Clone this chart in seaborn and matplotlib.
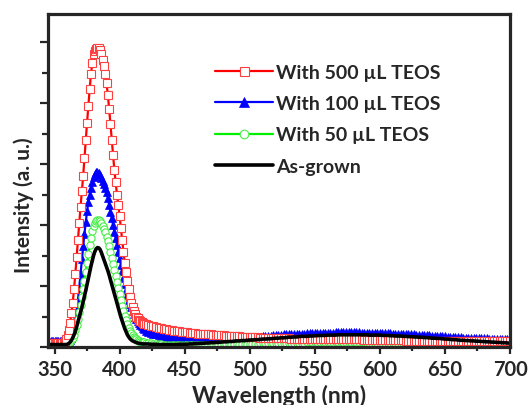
import matplotlib.pyplot as plt
import numpy as np
import seaborn as sns
from matplotlib.ticker import MultipleLocator

# wavelength grid (nm): 1 nm steps over the UV peak, 2 nm steps over the tail
wl_peak = np.arange(346, 421, 1)
wl_tail = np.arange(422, 701, 2)

labels = ['With 500 \u00b5L TEOS', 'With 100 \u00b5L TEOS', 'With 50 \u00b5L TEOS', 'As-grown']

teos500_peak = [
    0.12, 0.12, 0.12, 0.12, 0.12, 0.12, 0.12, 0.12, 0.12, 0.12,
    0.13, 0.14, 0.17, 0.25, 0.38, 0.55, 0.80, 1.10, 1.45, 1.90,
    2.40, 2.95, 3.50, 4.05, 4.60, 5.10, 5.60, 6.20, 6.80, 7.35,
    7.90, 8.45, 8.95, 9.30, 9.60, 9.72, 9.78, 9.80, 9.82, 9.75,
    9.60, 9.42, 9.20, 8.95, 8.65, 8.25, 7.80, 7.30, 6.80, 6.30,
    5.80, 5.40, 5.00, 4.65, 4.30, 3.90, 3.50, 3.10, 2.75, 2.45,
    2.15, 1.90, 1.65, 1.45, 1.30, 1.17, 1.07, 1.00, 0.94, 0.89,
    0.85, 0.82, 0.79, 0.76, 0.74,
]
teos500_tail = [
    0.72, 0.70, 0.68, 0.65, 0.63, 0.61, 0.60, 0.58, 0.57, 0.55,
    0.54, 0.53, 0.51, 0.50, 0.49, 0.48, 0.47, 0.46, 0.45, 0.44,
    0.43, 0.43, 0.42, 0.41, 0.41, 0.40, 0.40, 0.39, 0.38, 0.38,
    0.37, 0.37, 0.36, 0.36, 0.35, 0.35, 0.34, 0.34, 0.33, 0.33,
    0.32, 0.32, 0.32, 0.31, 0.31, 0.30, 0.30, 0.30, 0.29, 0.29,
    0.29, 0.28, 0.28, 0.28, 0.28, 0.27, 0.27, 0.27, 0.27, 0.26,
    0.26, 0.26, 0.26, 0.26, 0.26, 0.26, 0.26, 0.26, 0.26, 0.26,
    0.26, 0.26, 0.26, 0.26, 0.26, 0.25, 0.25, 0.25, 0.25, 0.25,
    0.25, 0.25, 0.25, 0.24, 0.24, 0.24, 0.24, 0.24, 0.23, 0.23,
    0.23, 0.23, 0.23, 0.22, 0.22, 0.22, 0.22, 0.22, 0.22, 0.21,
    0.21, 0.21, 0.21, 0.21, 0.21, 0.21, 0.21, 0.21, 0.21, 0.21,
    0.20, 0.20, 0.20, 0.20, 0.20, 0.20, 0.20, 0.20, 0.20, 0.20,
    0.20, 0.20, 0.20, 0.20, 0.20, 0.20, 0.20, 0.20, 0.20, 0.20,
    0.20, 0.20, 0.20, 0.20, 0.20, 0.20, 0.20, 0.20, 0.20, 0.20,
]

teos100_peak = [
    0.20, 0.20, 0.20, 0.20, 0.20, 0.20, 0.20, 0.20, 0.20, 0.20,
    0.20, 0.20, 0.20, 0.20, 0.20, 0.20, 0.22, 0.30, 0.48, 0.68,
    0.92, 1.20, 1.55, 1.95, 2.40, 2.88, 3.30, 3.72, 4.10, 4.45,
    4.75, 5.00, 5.22, 5.42, 5.57, 5.67, 5.73, 5.75, 5.72, 5.65,
    5.55, 5.45, 5.35, 5.22, 5.07, 4.88, 4.66, 4.44, 4.22, 4.00,
    3.78, 3.56, 3.35, 3.13, 2.92, 2.70, 2.48, 2.27, 2.07, 1.88,
    1.70, 1.55, 1.42, 1.30, 1.19, 1.09, 1.00, 0.92, 0.85, 0.79,
    0.73, 0.68, 0.63, 0.58, 0.54,
]
teos100_tail = [
    0.48, 0.45, 0.43, 0.41, 0.39, 0.37, 0.35, 0.34, 0.33, 0.32,
    0.31, 0.30, 0.29, 0.28, 0.27, 0.27, 0.26, 0.26, 0.25, 0.25,
    0.25, 0.25, 0.25, 0.25, 0.25, 0.25, 0.25, 0.26, 0.26, 0.26,
    0.27, 0.27, 0.28, 0.28, 0.28, 0.29, 0.29, 0.30, 0.30, 0.31,
    0.32, 0.33, 0.33, 0.34, 0.35, 0.36, 0.37, 0.37, 0.38, 0.39,
    0.40, 0.40, 0.41, 0.41, 0.42, 0.42, 0.43, 0.43, 0.44, 0.44,
    0.44, 0.45, 0.45, 0.45, 0.46, 0.46, 0.46, 0.47, 0.47, 0.47,
    0.47, 0.47, 0.48, 0.48, 0.48, 0.48, 0.48, 0.48, 0.48, 0.48,
    0.48, 0.48, 0.47, 0.47, 0.47, 0.47, 0.47, 0.46, 0.46, 0.46,
    0.46, 0.45, 0.45, 0.45, 0.44, 0.44, 0.43, 0.43, 0.43, 0.42,
    0.42, 0.41, 0.41, 0.40, 0.40, 0.39, 0.39, 0.38, 0.38, 0.37,
    0.37, 0.36, 0.36, 0.35, 0.35, 0.34, 0.34, 0.33, 0.33, 0.32,
    0.32, 0.31, 0.31, 0.30, 0.30, 0.30, 0.29, 0.29, 0.28, 0.28,
    0.28, 0.27, 0.27, 0.27, 0.26, 0.26, 0.25, 0.25, 0.25, 0.24,
]

teos50_peak = [
    0.05, 0.05, 0.05, 0.05, 0.05, 0.05, 0.05, 0.05, 0.05, 0.05,
    0.05, 0.05, 0.06, 0.07, 0.09, 0.11, 0.15, 0.22, 0.30, 0.40,
    0.55, 0.72, 0.92, 1.14, 1.38, 1.63, 1.90, 2.18, 2.47, 2.76,
    3.05, 3.33, 3.58, 3.80, 3.97, 4.08, 4.14, 4.16, 4.15, 4.12,
    4.06, 3.98, 3.88, 3.76, 3.62, 3.47, 3.30, 3.12, 2.93, 2.73,
    2.53, 2.33, 2.13, 1.93, 1.73, 1.54, 1.36, 1.19, 1.03, 0.88,
    0.75, 0.63, 0.53, 0.45, 0.38, 0.33, 0.28, 0.25, 0.22, 0.20,
    0.18, 0.17, 0.16, 0.15, 0.14,
]
teos50_tail = [
    0.13, 0.12, 0.11, 0.10, 0.09, 0.09, 0.08, 0.08, 0.07, 0.07,
    0.07, 0.07, 0.07, 0.07, 0.07, 0.07, 0.07, 0.07, 0.07, 0.07,
    0.07, 0.07, 0.08, 0.08, 0.08, 0.08, 0.08, 0.08, 0.09, 0.09,
    0.09, 0.09, 0.09, 0.10, 0.10, 0.10, 0.10, 0.10, 0.11, 0.11,
    0.11, 0.11, 0.11, 0.12, 0.12, 0.12, 0.12, 0.12, 0.13, 0.13,
    0.13, 0.13, 0.13, 0.13, 0.14, 0.14, 0.14, 0.14, 0.14, 0.14,
    0.14, 0.15, 0.15, 0.15, 0.15, 0.15, 0.15, 0.15, 0.15, 0.15,
    0.15, 0.15, 0.15, 0.15, 0.15, 0.15, 0.15, 0.15, 0.15, 0.15,
    0.15, 0.15, 0.15, 0.15, 0.14, 0.14, 0.14, 0.14, 0.14, 0.14,
    0.14, 0.13, 0.13, 0.13, 0.13, 0.13, 0.12, 0.12, 0.12, 0.12,
    0.12, 0.11, 0.11, 0.11, 0.11, 0.10, 0.10, 0.10, 0.10, 0.10,
    0.10, 0.09, 0.09, 0.09, 0.09, 0.09, 0.09, 0.08, 0.08, 0.08,
    0.08, 0.08, 0.08, 0.08, 0.08, 0.08, 0.08, 0.08, 0.08, 0.08,
    0.07, 0.07, 0.07, 0.07, 0.07, 0.07, 0.07, 0.07, 0.07, 0.07,
]

asgrown_peak = [
    0.08, 0.08, 0.08, 0.08, 0.08, 0.08, 0.08, 0.08, 0.08, 0.08,
    0.08, 0.08, 0.08, 0.08, 0.09, 0.12, 0.16, 0.22, 0.30, 0.40,
    0.50, 0.66, 0.82, 0.98, 1.14, 1.30, 1.48, 1.66, 1.85, 2.05,
    2.25, 2.45, 2.65, 2.83, 3.00, 3.13, 3.22, 3.26, 3.25, 3.20,
    3.10, 2.98, 2.86, 2.75, 2.63, 2.50, 2.36, 2.20, 2.05, 1.90,
    1.75, 1.60, 1.44, 1.28, 1.13, 0.98, 0.85, 0.72, 0.60, 0.50,
    0.40, 0.33, 0.27, 0.23, 0.20, 0.18, 0.16, 0.14, 0.13, 0.12,
    0.11, 0.11, 0.10, 0.10, 0.10,
]
asgrown_tail = [
    0.10, 0.09, 0.09, 0.09, 0.08, 0.08, 0.08, 0.08, 0.08, 0.08,
    0.08, 0.08, 0.09, 0.09, 0.09, 0.09, 0.10, 0.10, 0.11, 0.11,
    0.12, 0.12, 0.13, 0.13, 0.14, 0.14, 0.15, 0.15, 0.16, 0.17,
    0.17, 0.18, 0.18, 0.19, 0.20, 0.20, 0.21, 0.21, 0.22, 0.23,
    0.23, 0.24, 0.24, 0.25, 0.26, 0.26, 0.27, 0.27, 0.28, 0.29,
    0.29, 0.30, 0.30, 0.31, 0.32, 0.32, 0.33, 0.33, 0.34, 0.35,
    0.35, 0.35, 0.36, 0.36, 0.37, 0.37, 0.38, 0.38, 0.38, 0.39,
    0.39, 0.39, 0.39, 0.40, 0.40, 0.40, 0.40, 0.40, 0.40, 0.40,
    0.40, 0.40, 0.40, 0.40, 0.40, 0.39, 0.39, 0.39, 0.39, 0.39,
    0.38, 0.38, 0.38, 0.37, 0.37, 0.36, 0.36, 0.36, 0.35, 0.35,
    0.34, 0.34, 0.33, 0.33, 0.32, 0.32, 0.31, 0.31, 0.30, 0.29,
    0.29, 0.28, 0.28, 0.27, 0.26, 0.26, 0.25, 0.24, 0.24, 0.23,
    0.22, 0.22, 0.21, 0.21, 0.20, 0.20, 0.19, 0.19, 0.18, 0.18,
    0.17, 0.17, 0.16, 0.16, 0.15, 0.15, 0.14, 0.14, 0.13, 0.13,
]


def plot_spectra():
    wavelength = np.concatenate([wl_peak, wl_tail])
    spectra = {
        labels[0]: np.array(teos500_peak + teos500_tail),
        labels[1]: np.array(teos100_peak + teos100_tail),
        labels[2]: np.array(teos50_peak + teos50_tail),
        labels[3]: np.array(asgrown_peak + asgrown_tail),
    }
    styles = {
        labels[0]: dict(color='#ff0000', marker='s', markersize=5.4, markerfacecolor='white',
                        markeredgecolor='#ff4040', markeredgewidth=0.8, linewidth=1.6, zorder=5),
        labels[1]: dict(color='#0000ff', marker='^', markersize=5.6, markerfacecolor='#0000ff',
                        markeredgecolor='#0000ff', markeredgewidth=0.5, linewidth=1.6, zorder=3),
        labels[2]: dict(color='#00ee00', marker='o', markersize=5.2, markerfacecolor='white',
                        markeredgecolor='#44ee44', markeredgewidth=0.8, linewidth=1.6, zorder=4),
        labels[3]: dict(color='black', linewidth=2.6, zorder=6),
    }

    fig = plt.figure(figsize=(5.28, 4.06), dpi=100)
    ax = fig.add_axes([48 / 528, 1 - 348 / 406, 462 / 528, 333 / 406])

    for name in labels:
        sns.lineplot(x=wavelength, y=spectra[name], ax=ax, label=name, sort=False, **styles[name])

    ax.set_xlim(345, 700)
    ax.set_ylim(0, 10.92)
    ax.xaxis.set_major_locator(MultipleLocator(50))
    ax.xaxis.set_minor_locator(MultipleLocator(25))
    ax.yaxis.set_major_locator(MultipleLocator(2))
    ax.yaxis.set_minor_locator(MultipleLocator(1))
    ax.set_yticklabels([])
    ax.tick_params(axis='both', which='both', direction='out', width=1.6, top=False, right=False)
    ax.tick_params(axis='x', which='major', length=5, labelsize=14.5, pad=4)
    ax.tick_params(axis='x', which='minor', length=3)
    ax.tick_params(axis='y', which='major', length=5.8)
    ax.tick_params(axis='y', which='minor', length=4)
    for spine in ax.spines.values():
        spine.set_linewidth(2.3)
        spine.set_visible(True)
        spine.set_zorder(10)
    for lab in ax.get_xticklabels():
        lab.set_fontweight('bold')

    ax.set_xlabel('Wavelength (nm)', fontsize=16.5, fontweight='bold', labelpad=3.5)
    ax.set_ylabel('Intensity (a. u.)', fontsize=15, fontweight='bold')
    ax.yaxis.set_label_coords(-0.03, 0.43)

    handles, names = ax.get_legend_handles_labels()
    order = [names.index(n) for n in labels]
    ax.legend([handles[i] for i in order], [names[i] for i in order],
              loc='upper left', bbox_to_anchor=(0.361, 0.85), frameon=False,
              prop={'size': 14, 'weight': 'bold'}, handlelength=3.0, handletextpad=0.15,
              labelspacing=0.73, borderpad=0, borderaxespad=0, numpoints=1, markerscale=1.2)

    fig.savefig('out.png', dpi=100)
    plt.close(fig)


def run():
    sns.set_style('ticks')
    plt.rcParams['font.family'] = ['Lato', 'DejaVu Sans']
    plt.rcParams['font.weight'] = 'bold'
    plot_spectra()


if __name__ == '__main__':
    run()
